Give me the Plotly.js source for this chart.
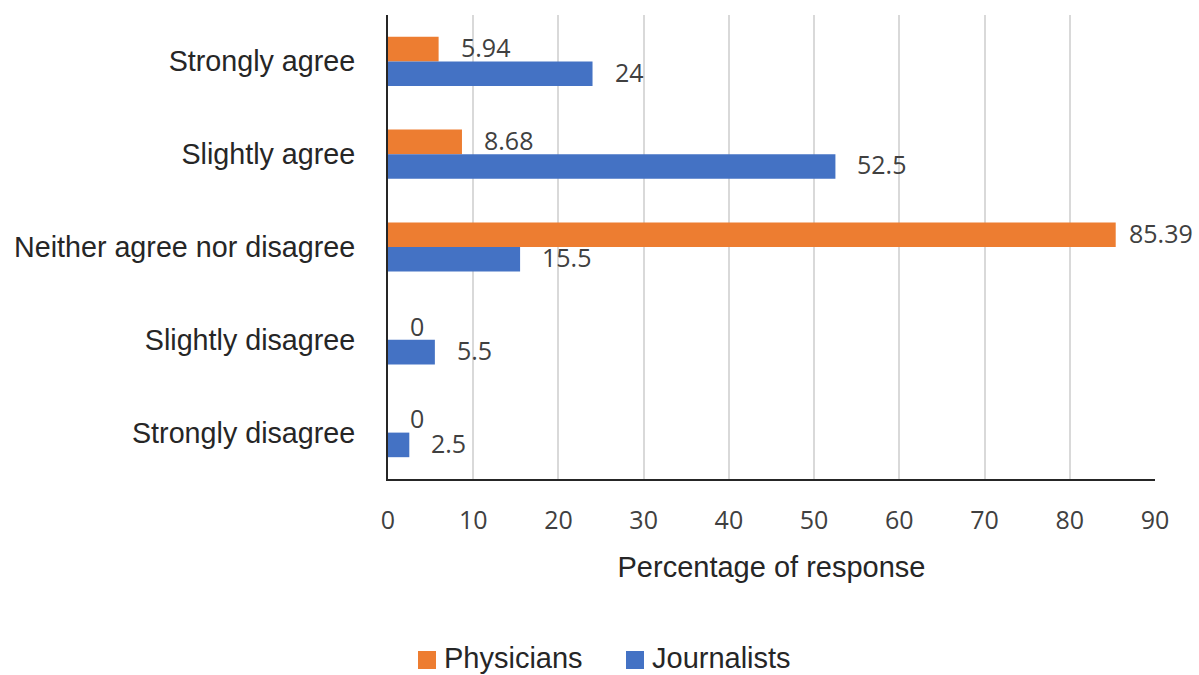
<!DOCTYPE html>
<html>
<head>
<meta charset="utf-8">
<script src="https://cdn.plot.ly/plotly-3.0.1.min.js"></script>
<style>
  html, body { margin: 0; padding: 0; background: #fff; }
  #chart { width: 1199px; height: 675px; }
</style>
</head>
<body>
<div id="chart"></div>
<script>
// Survey responses, percent of each group
const categories = [
  "Strongly agree",
  "Slightly agree",
  "Neither agree nor disagree",
  "Slightly disagree",
  "Strongly disagree"
];
const physicians = [5.94, 8.68, 85.39, 0, 0];
const journalists = [24, 52.5, 15.5, 5.5, 2.5];
const seriesNames = ["Physicians", "Journalists"];
const xTicks = [0, 10, 20, 30, 40, 50, 60, 70, 80, 90];

const W = 1199, H = 675;
const margin = { l: 388, r: 44, t: 15, b: 196 };
const xMax = 90;
const plotW = W - margin.l - margin.r;
const plotH = H - margin.t - margin.b;
const pxPerUnit = plotW / xMax;

const colors = ["#ED7D31", "#4472C4"];
const textFont = { family: "Liberation Sans, Arial, sans-serif", size: 29, color: "#262626" };
const catFont = { family: "Liberation Sans, Arial, sans-serif", size: 28.7, color: "#262626" };
const numFont = { family: "Open Sans, Noto Sans, sans-serif", size: 25, color: "#404040" };

// pixel -> paper coordinate helpers for the legend block
const px2paperX = px => (px - margin.l) / plotW;
const px2paperY = py => (H - margin.b - py) / plotH;

const traces = [physicians, journalists].map((vals, i) => ({
  type: "bar",
  orientation: "h",
  name: seriesNames[i],
  x: vals,
  y: categories,
  marker: { color: colors[i] },
  hoverinfo: "x+name"
}));

// Value labels to the right of each bar, pulled in if they would run off the page
const annotations = [];
const catStep = plotH / categories.length;
const bargap = 0.47;
const barThick = catStep * (1 - bargap) / 2;
[physicians, journalists].forEach((vals, si) => {
  vals.forEach((v, ci) => {
    const label = String(v);
    const estW = label.length * 0.56 * numFont.size;
    const endPx = margin.l + v * pxPerUnit;
    const shift = Math.min(20, W - 2 - endPx - estW);
    annotations.push({
      x: v, y: categories[ci], xref: "x", yref: "y",
      text: label, showarrow: false,
      xanchor: "left", yanchor: "middle",
      xshift: shift,
      yshift: (si === 0 ? 1 : -1) * barThick / 2 + 2,
      font: numFont
    });
  });
});

// Legend row below the axis title: square swatch + series name
const legendItemsPx = [418, 626];   // left edge of each swatch
const swatch = 18, legendMidY = 660;
const shapes = [];
seriesNames.forEach((name, i) => {
  const x0 = legendItemsPx[i];
  shapes.push({
    type: "rect", xref: "paper", yref: "paper",
    x0: px2paperX(x0), x1: px2paperX(x0 + swatch),
    y0: px2paperY(legendMidY + swatch / 2), y1: px2paperY(legendMidY - swatch / 2),
    fillcolor: colors[i], line: { width: 0 }
  });
  annotations.push({
    xref: "paper", yref: "paper",
    x: px2paperX(x0 + swatch + 6), y: px2paperY(legendMidY - 2),
    xanchor: "left", yanchor: "middle",
    text: name, showarrow: false,
    font: textFont
  });
});

const layout = {
  width: W, height: H,
  margin: margin,
  paper_bgcolor: "#ffffff",
  plot_bgcolor: "#ffffff",
  barmode: "group",
  bargap: bargap,
  bargroupgap: 0,
  showlegend: false,
  xaxis: {
    range: [0, xMax],
    tickvals: xTicks,
    ticktext: xTicks.map(String),
    showgrid: true,
    gridcolor: "#d9d9d9",
    gridwidth: 2,
    zeroline: false,
    showline: true,
    linecolor: "#262626",
    linewidth: 2,
    ticks: "",
    ticklabelstandoff: 18,
    tickfont: numFont,
    title: {
      text: "Percentage of response",
      font: textFont,
      standoff: 22
    },
    fixedrange: true
  },
  yaxis: {
    categoryorder: "array",
    categoryarray: categories,
    autorange: "reversed",
    showgrid: false,
    zeroline: false,
    showline: true,
    linecolor: "#262626",
    linewidth: 2,
    ticks: "",
    ticklabelstandoff: 25,
    tickfont: catFont,
    fixedrange: true
  },
  shapes: shapes,
  annotations: annotations
};

Plotly.newPlot("chart", traces, layout, { displayModeBar: false, staticPlot: true });
</script>
</body>
</html>
